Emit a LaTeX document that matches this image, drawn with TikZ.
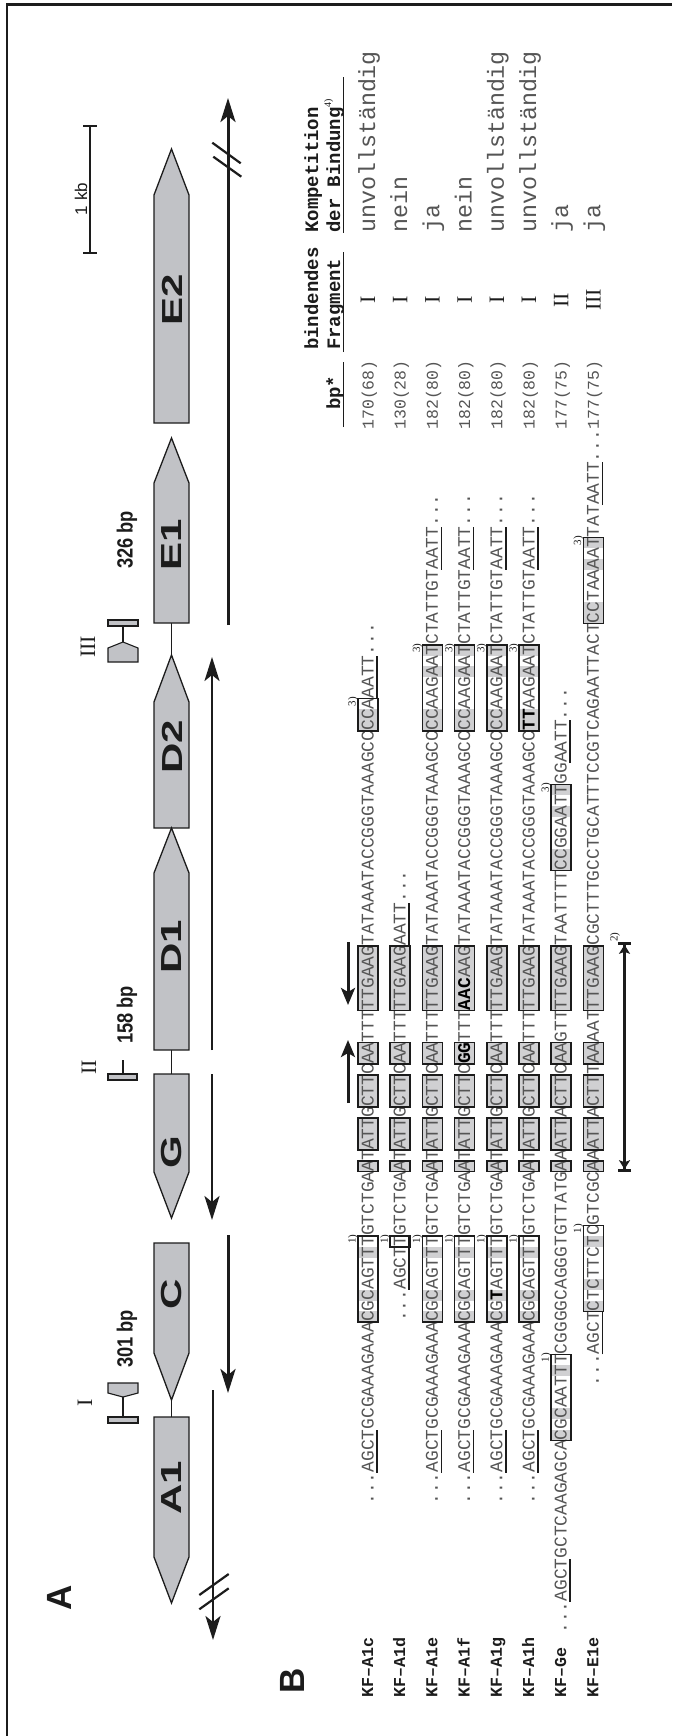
\documentclass[tikz,border=0pt]{standalone}
\usepackage{fontspec}
\setmainfont{Liberation Serif}
\setsansfont{Liberation Sans}
\setmonofont{Liberation Mono}
\newfontfamily\genefont{Liberation Sans}[FakeStretch=1.45]
\newfontfamily\bpfont{Liberation Sans}[FakeStretch=0.83]
\usetikzlibrary{arrows.meta}
\definecolor{genegray}{RGB}{193,194,198}
\definecolor{boxgray}{RGB}{208,208,210}
\definecolor{seqgray}{RGB}{85,85,85}
\definecolor{ink}{RGB}{28,28,28}
\newcommand{\mut}[1]{{\bfseries\color{black}#1}}
\newcommand{\geneshape}[4]{%
  \draw[gene] (154,-#2) -- (189,-#2) -- (189,-#3) -- (171.5,-#4) -- (154,-#3) -- cycle;
  \coordinate (#1-base) at (171.5,-#2);
  \coordinate (#1-tip) at (171.5,-#4);}
\tikzset{
  gene/.style={draw=ink, line width=1.3pt, fill=genegray},
  frag/.style={draw=ink, line width=1.1pt, fill=genegray},
  stem/.style={draw=ink, line width=1.8pt},
  conn/.style={draw=ink, line width=1.8pt},
  genelabel/.style={rotate=90, inner sep=0pt, text=ink, font=\genefont\bfseries\fontsize{29}{30}\selectfont},
  bplabel/.style={rotate=90, inner sep=0pt, text=ink, font=\bpfont\bfseries\fontsize{22}{24}\selectfont},
  roman/.style={rotate=90, inner sep=0pt, text=ink, font=\rmfamily\fontsize{22}{24}\selectfont},
  panel/.style={rotate=90, inner sep=0pt, text=ink, font=\sffamily\bfseries\fontsize{35}{36}\selectfont},
  tx/.style={draw=ink, line width=3pt, -{Stealth[length=24pt,width=15pt,inset=6pt]}},
  txthin/.style={tx, line width=2.5pt},
  slash/.style={draw=ink, line width=2.2pt},
  seq/.style={rotate=90, anchor=base west, inner sep=0pt, text=seqgray, font=\ttfamily\fontsize{17.914}{20}\selectfont},
  kf/.style={rotate=90, anchor=base west, inner sep=0pt, text=ink, font=\ttfamily\bfseries\fontsize{16.66}{18}\selectfont},
  bpnum/.style={rotate=90, anchor=base west, inner sep=0pt, text=seqgray, font=\ttfamily\fontsize{16.5}{18}\selectfont},
  comp/.style={rotate=90, anchor=base west, inner sep=0pt, text=seqgray, font=\ttfamily\fontsize{23.3}{25}\selectfont},
  head/.style={rotate=90, anchor=base west, inner sep=0pt, text=ink, font=\ttfamily\bfseries\fontsize{19}{21}\selectfont},
  fn/.style={rotate=90, inner sep=0pt, text=ink, font=\rmfamily\fontsize{11}{12}\selectfont},
  cell/.style={fill=boxgray},
  bx/.style={draw=ink, line width=1.6pt},
  ul/.style={draw=ink, line width=1.5pt},
  hul/.style={draw=ink, line width=1.3pt},
  irarrow/.style={draw=ink, line width=3pt, -{Stealth[length=17pt,width=14pt,inset=4pt]}},
  spanarrow/.style={draw=ink, line width=2.8pt, {Bar[width=13pt]Stealth[length=9pt,width=11pt,inset=2pt]}-{Stealth[length=9pt,width=11pt,inset=2pt]Bar[width=13pt]}},
}
\begin{document}
\begin{tikzpicture}[x=1pt,y=1pt]
\useasboundingbox (0,0) rectangle (672,-1736);
\fill[white] (0,0) rectangle (672,-1736);
% frame
\draw[ink, line width=2.4pt] (7,-1736) -- (7,-4.5) -- (672,-4.5);

% ---------------- Panel A ----------------
\node[panel] (lblA) at (59.5,-1598) {A};

% connectors between genes
\coordinate (cA1) at (171.5,-1417);
\coordinate (cC) at (171.5,-1400);
\coordinate (cG) at (171.5,-1074);
\coordinate (cD1) at (171.5,-1050);
\coordinate (cD2) at (171.5,-655);
\coordinate (cE1) at (171.5,-623);
\draw[conn] (cA1) -- (cC);
\draw[conn] (cG) -- (cD1);
\draw[conn] (cD2) -- (cE1);

% genes
\geneshape{E2}{423}{195}{149}
\geneshape{E1}{623}{483}{438}
\geneshape{D2}{828}{702}{655}
\geneshape{D1}{1050}{873}{828}
\geneshape{G}{1074}{1172}{1218}
\geneshape{C}{1243}{1353}{1400}
\geneshape{A1}{1417}{1557}{1603}

\node[genelabel] (gE2) at (172,-300) {E2};
\node[genelabel] (gE1) at (172,-545) {E1};
\node[genelabel] (gD2) at (172,-747) {D2};
\node[genelabel] (gD1) at (172,-947) {D1};
\node[genelabel] (gG) at (172,-1152) {G};
\node[genelabel] (gC) at (172,-1294) {C};
\node[genelabel] (gA1) at (172,-1488) {A1};

% binding fragments
\draw[frag] (108,-1383) -- (138,-1383) -- (138,-1393) -- (123,-1397) -- (108,-1393) -- cycle;
\draw[stem] (123,-1397) -- (123,-1417);
\draw[frag] (108,-1417) rectangle (138,-1423);
\draw[stem] (123,-1060) -- (123,-1074);
\draw[frag] (108,-1074) rectangle (137,-1080);
\draw[stem] (123,-626) -- (123,-642);
\draw[frag] (108,-620) rectangle (138,-626);
\draw[frag] (108,-662) -- (138,-662) -- (138,-648) -- (123,-642) -- (108,-648) -- cycle;

\node[roman] (fI) at (85,-1403) {I};
\node[roman] (fII) at (89,-1067) {II};
\node[roman] (fIII) at (88,-647) {III};
\node[bplabel] (bp301) at (127,-1339) {301 bp};
\node[bplabel] (bp158) at (127,-1015) {158 bp};
\node[bplabel] (bp326) at (127,-540) {326 bp};

% scale bar
\draw[ink, line width=1.3pt] (90,-126) -- (90,-253);
\draw[ink, line width=1.3pt] (83,-126) -- (97,-126);
\draw[ink, line width=1.3pt] (83,-253) -- (97,-253);
\node[rotate=90, inner sep=0pt, text=ink, font=\sffamily\fontsize{17}{18}\selectfont] (kb) at (81,-199) {1 kb};

% transcripts
\coordinate (tEs) at (228,-625); \coordinate (tEe) at (228,-98);
\coordinate (tDs) at (212,-1050); \coordinate (tDe) at (212,-657);
\coordinate (tGs) at (212,-1074); \coordinate (tGe) at (212,-1220);
\coordinate (tCs) at (228,-1235); \coordinate (tCe) at (228,-1393);
\coordinate (tAs) at (213,-1390); \coordinate (tAe) at (213,-1640);
\draw[tx] (tEs) -- (tEe);
\draw[txthin] (tDs) -- (tDe);
\draw[txthin] (tGs) -- (tGe);
\draw[tx] (tCs) -- (tCe);
\draw[txthin] (tAs) -- (tAe);
\draw[slash] (212.3,-142.7) -- (240.7,-163.3);
\draw[slash] (213.3,-156.7) -- (241.3,-176.7);
\draw[slash] (199.3,-1595) -- (228.7,-1574);
\draw[slash] (199.3,-1609.3) -- (228.7,-1588.3);

% ---------------- Panel B ----------------
\node[panel] (lblB) at (292.5,-1681) {B};

\node[kf] (k1) at (373,-1698) {KF–A1c};
\node[kf] (k2) at (405.2,-1698) {KF–A1d};
\node[kf] (k3) at (437.4,-1698) {KF–A1e};
\node[kf] (k4) at (469.6,-1698) {KF–A1f};
\node[kf] (k5) at (501.8,-1698) {KF–A1g};
\node[kf] (k6) at (534,-1698) {KF–A1h};
\node[kf] (k7) at (566.2,-1698) {KF–Ge};
\node[kf] (k8) at (598.4,-1698) {KF–E1e};

\begin{scope}[shift={(0pt,-1504.8pt)}, y=10.75pt]
  % inverted-repeat boxes: fills
  \foreach \rc in {368,400.2,432.4,464.6,496.8,529,561.2,593.4}{
    \foreach \s/\l in {31/1,33/3,37/3,41/2,46/6}{
      \fill[cell] (\rc-10,\s) rectangle (\rc+10,\s+\l);}}
  % 1) boxes shading
  \foreach \rc/\st in {368/17,432.4/17,464.6/17,496.8/17,529/17,561.2/6,593.4/18}{
    \foreach \k in {0,2,6}{
      \fill[cell] (\rc-10,\st+\k) rectangle (\rc+10,\st+\k+1);}}
  % 3) boxes shading
  \foreach \rc/\st in {432.4/72,464.6/72,496.8/72,529/72,561.2/59,593.4/82}{
    \foreach \k in {0,1,5,7}{
      \fill[cell] (\rc-10,\st+\k) rectangle (\rc+10,\st+\k+1);}}
  \foreach \k in {0,1}{\fill[cell] (358,72+\k) rectangle (378,73+\k);}

  % sequences
  \node[seq] (s1) at (373.5,0) {...AGCTGCGAAAGAAACGCAGTTTGTCTGAATATTGCTTCAATTTTTGAAGTATAAATACCGGGTAAAGCCCCAAATT...};
  \node[seq] (s2) at (405.7,17) {...AGCTTGTCTGAATATTGCTTCAATTTTTGAAGAATT...};
  \node[seq] (s3) at (437.9,0) {...AGCTGCGAAAGAAACGCAGTTTGTCTGAATATTGCTTCAATTTTTGAAGTATAAATACCGGGTAAAGCCCCAAGAATCTATTGTAATT...};
  \node[seq] (s4) at (470.1,0) {...AGCTGCGAAAGAAACGCAGTTTGTCTGAATATTGCTTC\mut{GG}TTT\mut{AAC}AAGTATAAATACCGGGTAAAGCCCCAAGAATCTATTGTAATT...};
  \node[seq] (s5) at (502.3,0) {...AGCTGCGAAAGAAACG\mut{T}AGTTTGTCTGAATATTGCTTCAATTTTTGAAGTATAAATACCGGGTAAAGCCCCAAGAATCTATTGTAATT...};
  \node[seq] (s6) at (534.5,0) {...AGCTGCGAAAGAAACGCAGTTTGTCTGAATATTGCTTCAATTTTTGAAGTATAAATACCGGGTAAAGCC\mut{TT}AAGAATCTATTGTAATT...};
  \node[seq] (s7) at (566.7,-12) {...AGCTGCTCAAGAGCACGCAATTTCGGGGCAGGGTGTTATGAAATTACTTCAAGTTTTGAAGTAATTTTCCGGAATTGGAATT...};
  \node[seq] (s8) at (598.9,11) {...AGCTCTCTTCTCGTCGCAAATTACTTTAAAATTTGAAGCGCTTTGCCTGCATTTCCGTCAGAATTACTCCTAAAATTATAATT...};

  % bp numbers
  \node[bpnum] (n1) at (373.5,100) {170(68)};
  \node[bpnum] (n2) at (405.7,100) {130(28)};
  \node[bpnum] (n3) at (437.9,100) {182(80)};
  \node[bpnum] (n4) at (470.1,100) {182(80)};
  \node[bpnum] (n5) at (502.3,100) {182(80)};
  \node[bpnum] (n6) at (534.5,100) {182(80)};
  \node[bpnum] (n7) at (566.7,100) {177(75)};
  \node[bpnum] (n8) at (598.9,100) {177(75)};

  % box borders
  \foreach \rc in {368,400.2,432.4,464.6,496.8,529,561.2,593.4}{
    \foreach \s/\l in {31/1,33/3,37/3,41/2,46/6}{
      \draw[bx] (\rc-10,\s) rectangle (\rc+10,\s+\l);}}
  \foreach \rc/\st/\l in {368/17/8,400.2/24/1,432.4/17/8,464.6/17/8,496.8/17/8,529/17/8,561.2/6/8,593.4/18/8}{
    \draw[bx] (\rc-10,\st) rectangle (\rc+10,\st+\l);}
  \foreach \rc/\st/\l in {368/72/3,432.4/72/8,464.6/72/8,496.8/72/8,529/72/8,561.2/59/8,593.4/82/8}{
    \draw[bx] (\rc-10,\st) rectangle (\rc+10,\st+\l);}

  % footnote marks
  \foreach \rc/\e [count=\n] in {368/25,400.2/25,432.4/25,464.6/25,496.8/25,529/25,561.2/14,593.4/26}{
    \node[fn] (fa\n) at (\rc-15,\e-0.3) {1)};}
  \foreach \rc/\e [count=\n] in {368/75,432.4/80,464.6/80,496.8/80,529/80,561.2/67,593.4/90}{
    \node[fn] (fb\n) at (\rc-15,\e-0.3) {3)};}

  % underlines
  \foreach \rc/\a/\b in {368/3/7,368/75/79,400.2/20/25,400.2/52/56,
      432.4/3/7,432.4/87/91,464.6/3/7,464.6/87/91,496.8/3/7,496.8/87/91,
      529/3/7,529/87/91,561.2/-9/-5,561.2/69/73,593.4/14/18,593.4/93/97}{
    \draw[ul] (\rc+9,\a) -- (\rc+9,\b);}
\end{scope}

% roman numerals and competition
\node[roman] (r1) at (368,-300) {I};
\node[roman] (r2) at (400.2,-300) {I};
\node[roman] (r3) at (432.4,-300) {I};
\node[roman] (r4) at (464.6,-300) {I};
\node[roman] (r5) at (496.8,-300) {I};
\node[roman] (r6) at (529,-300) {I};
\node[roman] (r7) at (561.2,-300) {II};
\node[roman] (r8) at (593.4,-300) {III};

\node[comp] (c1) at (375,-233) {unvollständig};
\node[comp] (c2) at (407.2,-233) {nein};
\node[comp] (c3) at (439.4,-233) {ja};
\node[comp] (c4) at (471.6,-233) {nein};
\node[comp] (c5) at (503.8,-233) {unvollständig};
\node[comp] (c6) at (536,-233) {unvollständig};
\node[comp] (c7) at (568.2,-233) {ja};
\node[comp] (c8) at (600.4,-233) {ja};

% headers
\node[head] (h1) at (340,-410) {bp*};
\node[head] (h2) at (318,-350) {bindendes};
\node[head] (h3) at (340,-350) {Fragment};
\node[head] (h4) at (318,-233) {Kompetition};
\node[head] (h5) at (340,-233) {der Bindung{\rmfamily\mdseries\fontsize{10}{10}\selectfont\raisebox{9pt}{4)}}};
\draw[hul] (343.5,-427) -- (343.5,-362);
\draw[hul] (343.5,-352) -- (343.5,-252);
\draw[hul] (343.5,-233) -- (343.5,-77);

% inverted repeat arrows
\coordinate (iu1) at (348,-1103); \coordinate (iu2) at (348,-1040);
\coordinate (id1) at (348,-942); \coordinate (id2) at (348,-1005);
\draw[irarrow] (iu1) -- (iu2);
\draw[irarrow] (id1) -- (id2);
\coordinate (sp1) at (624.5,-1172); \coordinate (sp2) at (624.5,-942);
\draw[spanarrow] (sp1) -- (sp2);
\node[fn] (fn2) at (615,-937) {2)};
\end{tikzpicture}
\end{document}
